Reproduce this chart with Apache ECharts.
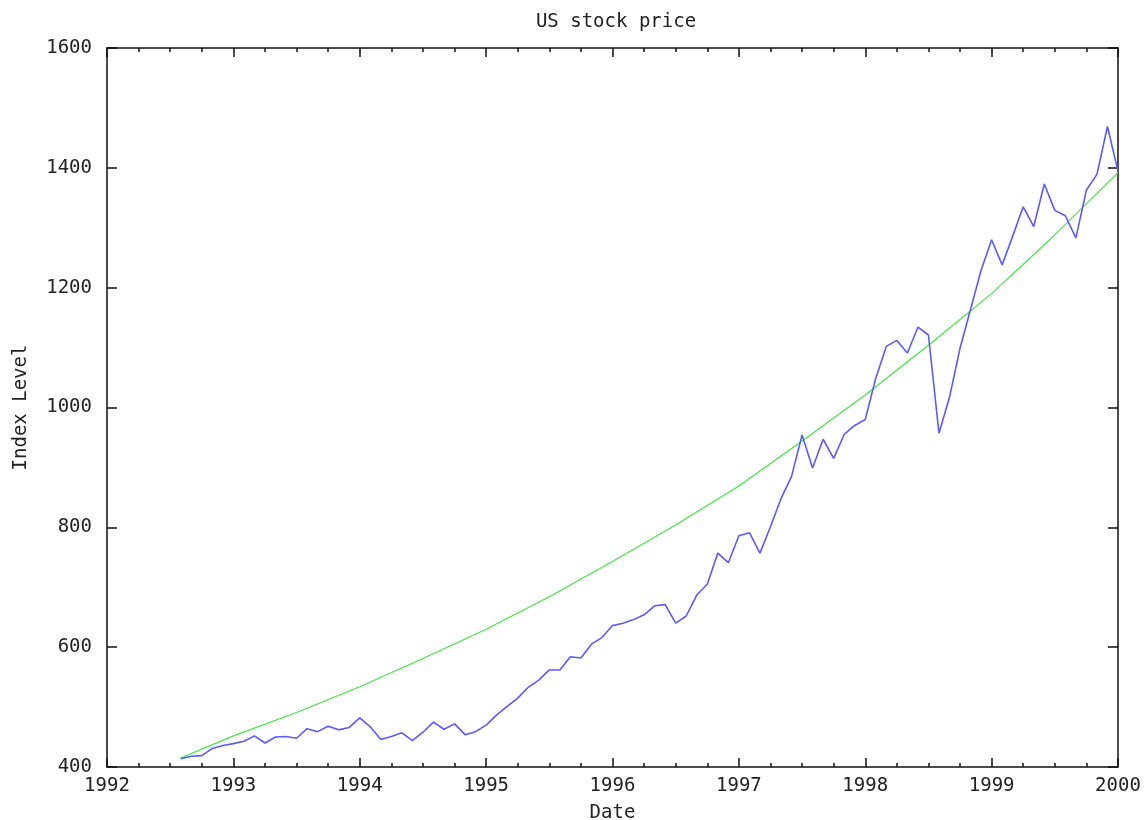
<!DOCTYPE html>
<html><head><meta charset="utf-8">
<script src="https://cdn.jsdelivr.net/npm/echarts@6/dist/echarts.min.js"></script>
<style>html,body{margin:0;padding:0;background:#fff}#c{width:1144px;height:820px}</style>
</head><body><div id="c"></div>
<script>
const chartTitle = 'US stock price';
const xName = 'Date';
const yName = 'Index Level';
// monthly index level, starting Aug 1992 (month positions: year + (month-1)/12)
const startYear = 1992, startMonth = 8;
const priceValues = [
  414, 418, 419, 431, 436,
  439, 443, 452, 440, 450, 451, 448, 464, 459, 468, 462, 466,
  482, 467, 446, 451, 457, 444, 458, 475, 463, 472, 454, 459,
  470, 487, 501, 515, 533, 545, 562, 562, 584, 582, 605, 616,
  636, 640, 646, 654, 669, 671, 640, 652, 687, 705, 757, 741,
  786, 791, 757, 801, 848, 885, 954, 899, 947, 915, 955, 970,
  980, 1049, 1102, 1112, 1091, 1134, 1121, 957, 1017, 1099, 1164, 1229,
  1280, 1238, 1286, 1335, 1302, 1373, 1329, 1320, 1283, 1363, 1389, 1469,
  1394
];
// trend line
const trendYears = [1992.583, 1993, 1993.5, 1994, 1994.5, 1995, 1995.5, 1996, 1996.5, 1997, 1997.5, 1998, 1998.5, 1999, 1999.5, 2000];
const trendValues = [415, 452, 491, 534, 581, 630, 684, 743, 804, 869, 944, 1021, 1104, 1190, 1288, 1392];
const xMin = 1992, xMax = 2000, xStep = 1;
const yMin = 400, yMax = 1600, yStep = 200;

const font = 'DejaVu Sans Mono';
const fs = 19;
const txt = '#222';
const axisCol = '#111';

const priceData = priceValues.map((v, i) => [startYear + (startMonth - 1 + i) / 12, v]);
const trendData = trendYears.map((y, i) => [y, trendValues[i]]);

function xAx(pos, labels) {
  return {
    type: 'value', position: pos, min: xMin, max: xMax, interval: xStep,
    axisLine: {show: true, onZero: false, lineStyle: {color: axisCol, width: 1.5}},
    axisTick: {show: true, inside: true, length: 9, lineStyle: {color: axisCol, width: 1.5}},
    minorTick: {show: true, splitNumber: 4, length: 4, lineStyle: {color: axisCol, width: 1.5}},
    splitLine: {show: false}, minorSplitLine: {show: false},
    axisLabel: {show: labels, margin: 10, fontFamily: font, fontSize: fs, color: txt, formatter: v => String(v)},
    name: labels ? xName : '', nameLocation: 'middle', nameGap: 37,
    nameTextStyle: {fontFamily: font, fontSize: fs, color: txt}
  };
}
function yAx(pos, labels) {
  return {
    type: 'value', position: pos, min: yMin, max: yMax, interval: yStep,
    axisLine: {show: true, onZero: false, lineStyle: {color: axisCol, width: 1.5}},
    axisTick: {show: true, inside: true, length: 10, lineStyle: {color: axisCol, width: 1.5}},
    splitLine: {show: false},
    axisLabel: {show: labels, margin: 15, fontFamily: font, fontSize: fs, color: txt, formatter: v => String(v)},
    name: labels ? yName : '', nameLocation: 'middle', nameGap: 76, nameRotate: 90,
    nameTextStyle: {fontFamily: font, fontSize: fs, color: txt}
  };
}

const chart = echarts.init(document.getElementById('c'), null, {renderer: 'canvas'});
chart.setOption({
  animation: false,
  backgroundColor: '#fff',
  title: {text: chartTitle, left: 611, top: 8, textAlign: 'center',
    textStyle: {fontFamily: font, fontSize: fs, fontWeight: 'normal', color: txt}},
  grid: {left: 107, right: 26, top: 48, bottom: 53, containLabel: false, outerBoundsMode: 'none'},
  xAxis: [xAx('bottom', true), xAx('top', false)],
  yAxis: [yAx('left', true), yAx('right', false)],
  series: [
    {type: 'line', name: 'trend', xAxisIndex: 0, yAxisIndex: 0, data: trendData, showSymbol: false,
      lineStyle: {color: '#3ee83e', width: 1.2}},
    {type: 'line', name: 'price', xAxisIndex: 0, yAxisIndex: 0, data: priceData, showSymbol: false,
      lineStyle: {color: '#5a5aff', width: 1.6}}
  ]
});
</script>
</body></html>
